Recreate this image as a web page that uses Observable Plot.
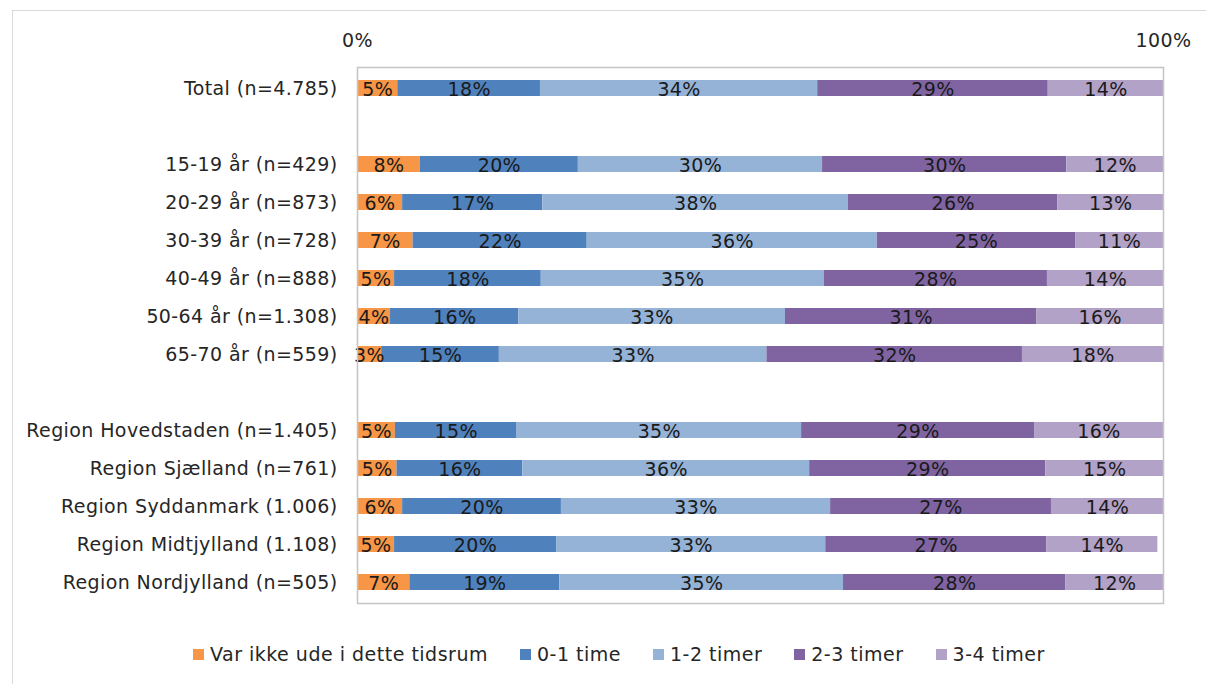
<!DOCTYPE html>
<html>
<head>
<meta charset="utf-8">
<script src="https://cdn.jsdelivr.net/npm/d3@7"></script>
<script src="https://cdn.jsdelivr.net/npm/@observablehq/plot@0.6"></script>
<style>
  body { margin: 0; background: #fff; font-family: "DejaVu Sans", sans-serif; overflow: hidden; }
  #box { position: absolute; left: 12px; top: 10px; width: 1400px; height: 900px; border: 1px solid #d9d9d9; }
  #chart { position: absolute; left: 0; top: 0; }
  #chart svg text { letter-spacing: 0.4px; }
  #legend { position: absolute; top: 643px; left: 193px; display: flex; align-items: center; font-size: 19px; letter-spacing: 0.5px; line-height: 22px; color: #262626; white-space: nowrap; }
  #legend .item { display: flex; align-items: center; margin-right: 32px; }
  #legend .sw { width: 11px; height: 11px; margin-right: 6px; }
</style>
</head>
<body>
<div id="box"></div>
<div id="chart"></div>
<div id="legend"></div>
<script>
// Categories (rows), top to bottom
const categories = [
  "Total (n=4.785)",
  "15-19 år (n=429)",
  "20-29 år (n=873)",
  "30-39 år (n=728)",
  "40-49 år (n=888)",
  "50-64 år (n=1.308)",
  "65-70 år (n=559)",
  "Region Hovedstaden (n=1.405)",
  "Region Sjælland (n=761)",
  "Region Syddanmark (1.006)",
  "Region Midtjylland (1.108)",
  "Region Nordjylland (n=505)"
];
// Row order including blank spacer rows
const rowOrder = [
  categories[0], " ",
  ...categories.slice(1, 7), "  ",
  ...categories.slice(7)
];

// Series
const seriesNames = ["Var ikke ude i dette tidsrum", "0-1 time", "1-2 timer", "2-3 timer", "3-4 timer"];
const seriesColors = ["#F79646", "#4F81BD", "#95B3D7", "#8064A2", "#B3A2C7"];

// Values (%) per series, in category order
const notOut   = [5.0, 7.8, 5.6, 6.9, 4.6, 4.1, 3.0, 4.7, 4.9, 5.6, 4.6, 6.5];
const h0to1    = [17.7, 19.6, 17.4, 21.6, 18.2, 15.9, 14.6, 15.1, 15.6, 19.7, 20.1, 18.6];
const h1to2    = [34.4, 30.3, 37.9, 36.0, 35.1, 33.1, 33.2, 35.3, 35.6, 33.4, 33.4, 35.2];
const h2to3    = [28.6, 30.3, 26.0, 24.6, 27.7, 31.2, 31.7, 28.9, 29.3, 27.4, 27.4, 27.6];
const h3to4    = [14.3, 12.0, 13.1, 10.9, 14.4, 15.7, 17.5, 16.0, 14.6, 13.9, 13.8, 12.1];

const xTicks = [0, 100];

const seriesValues = [notOut, h0to1, h1to2, h2to3, h3to4];
const data = [];
categories.forEach((c, i) => {
  seriesNames.forEach((s, j) => {
    data.push({row: c, series: s, value: seriesValues[j][i]});
  });
});

const chart = Plot.plot({
  width: 1206,
  height: 620,
  marginLeft: 357,
  marginRight: 43,
  marginTop: 67,
  marginBottom: 17,
  style: {fontFamily: "DejaVu Sans, sans-serif", fontSize: "19px", color: "#262626", background: "transparent"},
  x: {domain: [0, 100], axis: "top", ticks: xTicks, tickFormat: d => d + "%", tickSize: 0, tickPadding: 21, label: null},
  y: {domain: rowOrder, tickSize: 0, tickPadding: 20, label: null, tickFormat: d => d.trim(), padding: 0},
  color: {domain: seriesNames, range: seriesColors},
  marks: [
    Plot.barX(data, Plot.stackX({x: "value", y: "row", fill: "series", insetTop: 11, insetBottom: 11})),
    Plot.text(data, Plot.stackX({x: "value", y: "row", z: "series", text: d => Math.round(d.value) + "%", dy: 1.5, fill: "#1a1a1a", fontSize: 19})),
    Plot.frame({stroke: "#c4c4c4", strokeWidth: 1.5})
  ]
});
document.getElementById("chart").appendChild(chart);

const legend = document.getElementById("legend");
seriesNames.forEach((s, i) => {
  const item = document.createElement("div");
  item.className = "item";
  const sw = document.createElement("span");
  sw.className = "sw";
  sw.style.background = seriesColors[i];
  const t = document.createElement("span");
  t.textContent = s;
  item.appendChild(sw);
  item.appendChild(t);
  legend.appendChild(item);
});
</script>
</body>
</html>
